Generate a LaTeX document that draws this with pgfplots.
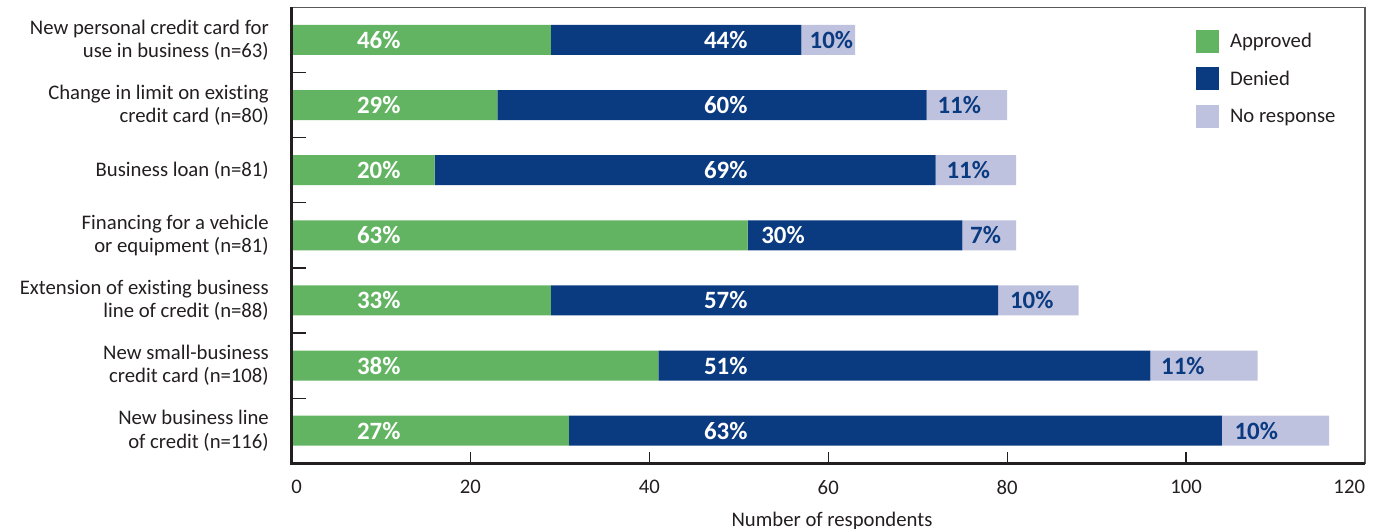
\documentclass[border=0pt]{standalone}
\usepackage{pgfplots}
\pgfplotsset{compat=1.18}
\usepackage{fontspec}
\setmainfont{Carlito}[Ligatures=NoCommon]
\definecolor{cgreen}{HTML}{62B462}
\definecolor{cnavy}{HTML}{0A3A80}
\definecolor{clav}{HTML}{BEC2DE}
\definecolor{ctext}{HTML}{231F20}
\newcommand{\reg}{\fontsize{20.8}{23.2}\selectfont}
\newcommand{\pct}{\bfseries\fontsize{25}{25}\selectfont}
\begin{document}
\begin{tikzpicture}
\begin{axis}[
  name=ax,
  at={(0,0)}, anchor=south west,
  scale only axis, width=1073.5bp, height=456bp,
  clip=false,
  xbar stacked, bar width=30bp, bar shift=0pt,
  xmin=0, xmax=120, ymin=-0.5, ymax=6.5,
  xtick={0,20,...,120},
  xticklabels={\rlap{0},20,40,60,80,100,\llap{120}},
  ytick={0,...,6},
  yticklabels={
    {New business line\\of credit (n=116)},
    {New small-business\\credit card (n=108)},
    {Extension of existing business\\line of credit (n=88)},
    {Financing for a vehicle\\or equipment (n=81)},
    {Business loan (n=81)},
    {Change in limit on existing\\credit card (n=80)},
    {New personal credit card for\\use in business (n=63)}},
  major tick length=0pt,
  extra x ticks={20,40,60,80,100},
  extra x tick labels={},
  extra x tick style={major tick length=11bp, tick style={draw=ctext, line width=1.3bp}},
  extra y ticks={0.5,1.5,2.5,3.5,4.5,5.5},
  extra y tick labels={},
  extra y tick style={major tick length=15bp, tick style={draw=ctext, line width=1.3bp}},
  xtick pos=bottom, ytick pos=left,
  tick align=inside,
  axis line style={draw=black!65, line width=1.3bp},
  xticklabel style={inner sep=0pt, yshift=-16.7bp, font=\reg, text=ctext},
  yticklabel style={inner sep=0pt, xshift=-22.5bp, align=right, font=\reg, text=ctext},
  xlabel={Number of respondents},
  xlabel style={at={(axis description cs:0.5035,0)}, anchor=base, yshift=-62.7bp, inner sep=0pt, font=\reg, text=ctext},
  legend style={at={(0.8426,0.9502)}, anchor=north west, draw=none, fill=none,
    inner sep=0pt, outer sep=0pt, row sep=14.3bp, /tikz/column sep=11bp,
    font=\reg, nodes={inner sep=0pt, text=ctext}},
  legend cell align=left,
  legend image code/.code={\fill[#1] (0bp,-11.5bp) rectangle (23bp,11.5bp);},
]
\addplot[fill=cgreen, draw=none] coordinates {(31,0) (41,1) (29,2) (51,3) (16,4) (23,5) (29,6)};
\addplot[fill=cnavy, draw=none] coordinates {(73,0) (55,1) (50,2) (24,3) (56,4) (48,5) (28,6)};
\addplot[fill=clav, draw=none] coordinates {(12,0) (12,1) (9,2) (6,3) (9,4) (9,5) (6,6)};
\addlegendentry{Approved}
\addlegendentry{Denied}
\addlegendentry{No response}
\coordinate (g6) at (axis cs:7.3,6);
\coordinate (g5) at (axis cs:7.3,5);
\coordinate (g4) at (axis cs:7.3,4);
\coordinate (g3) at (axis cs:7.3,3);
\coordinate (g2) at (axis cs:7.3,2);
\coordinate (g1) at (axis cs:7.3,1);
\coordinate (g0) at (axis cs:7.3,0);
\coordinate (b6) at (axis cs:46.1,6);
\coordinate (b5) at (axis cs:46.1,5);
\coordinate (b4) at (axis cs:46.1,4);
\coordinate (b3) at (axis cs:52.5,3);
\coordinate (b2) at (axis cs:46.1,2);
\coordinate (b1) at (axis cs:46.1,1);
\coordinate (b0) at (axis cs:46.1,0);
\coordinate (l6) at (axis cs:57.9,6);
\coordinate (l5) at (axis cs:72.2,5);
\coordinate (l4) at (axis cs:73.2,4);
\coordinate (l3) at (axis cs:75.85,3);
\coordinate (l2) at (axis cs:80.3,2);
\coordinate (l1) at (axis cs:97.2,1);
\coordinate (l0) at (axis cs:105.4,0);
\end{axis}
\draw[ctext, line width=2.4bp] (ax.north west) -- (ax.south west) -- (ax.south east);
\begin{scope}[every node/.style={anchor=west, font=\pct, inner sep=0pt}]
\node[text=white] at (g6) {46\%};
\node[text=white] at (g5) {29\%};
\node[text=white] at (g4) {20\%};
\node[text=white] at (g3) {63\%};
\node[text=white] at (g2) {33\%};
\node[text=white] at (g1) {38\%};
\node[text=white] at (g0) {27\%};
\node[text=white] at (b6) {44\%};
\node[text=white] at (b5) {60\%};
\node[text=white] at (b4) {69\%};
\node[text=white] at (b3) {30\%};
\node[text=white] at (b2) {57\%};
\node[text=white] at (b1) {51\%};
\node[text=white] at (b0) {63\%};
\node[text=cnavy] at (l6) {10\%};
\node[text=cnavy] at (l5) {11\%};
\node[text=cnavy] at (l4) {11\%};
\node[text=cnavy] at (l3) {7\%};
\node[text=cnavy] at (l2) {10\%};
\node[text=cnavy] at (l1) {11\%};
\node[text=cnavy] at (l0) {10\%};
\end{scope}
\pgfresetboundingbox
\path[use as bounding box] (-291.5bp,-65.7bp) rectangle (1085.5bp,463.3bp);
\end{tikzpicture}
\end{document}
